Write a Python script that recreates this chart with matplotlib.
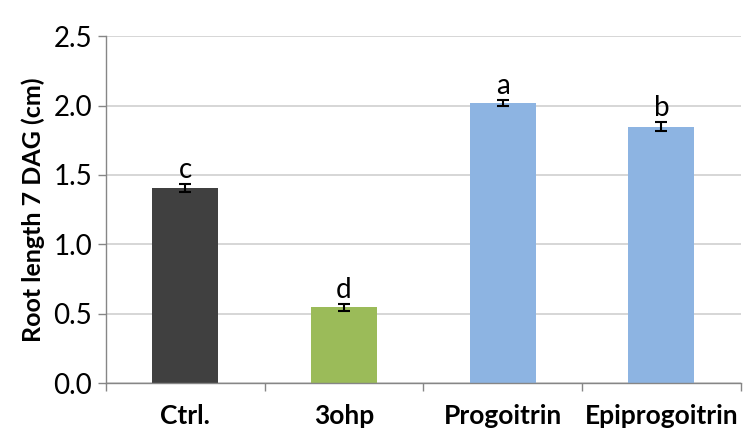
import numpy as np
import matplotlib.pyplot as plt

categories = ['Ctrl.', '3ohp', 'Progoitrin', 'Epiprogoitrin']
values = [1.405, 0.548, 2.018, 1.848]
errors = [0.03, 0.025, 0.024, 0.034]
letters = ['c', 'd', 'a', 'b']
colors = ['#404040', '#9BBB59', '#8DB4E2', '#8DB4E2']

plt.rcParams['font.family'] = ['Lato', 'DejaVu Sans']

fig = plt.figure(figsize=(7.46, 4.46), dpi=100)
ax = fig.add_axes([0.142, 0.141, 0.851, 0.778])

x = np.arange(len(categories))
ax.bar(x, values, width=0.415, color=colors, zorder=2)
ax.errorbar(x, values, yerr=errors, fmt='none', ecolor='black',
            elinewidth=1.5, capsize=4.5, capthick=1.5, zorder=3)
for xi, v, e, t in zip(x, values, errors, letters):
    ax.text(xi, v + e + 0.005, t, ha='center', va='bottom', fontsize=20)

ax.set_xlim(-0.5, len(categories) - 0.5)
ax.set_ylim(0, 2.5)
ax.set_yticks(np.arange(0, 2.51, 0.5))
ax.set_yticklabels(['%.1f' % v for v in np.arange(0, 2.51, 0.5)], fontsize=20)
ax.set_xticks(x)
ax.set_xticklabels(categories, fontsize=19, fontweight='bold')
ax.set_xticks(np.arange(-0.5, len(categories)), minor=True)
ax.tick_params(axis='x', which='major', length=0, pad=15)
ax.tick_params(axis='x', which='minor', length=6, color='#868686', width=1)
ax.tick_params(axis='y', length=6, color='#868686', width=1, pad=4)
ax.set_ylabel('Root length 7 DAG (cm)', fontsize=18, fontweight='bold', labelpad=6)

ax.grid(axis='y', color='#D0D0D0', linewidth=1.2, zorder=0)
ax.set_axisbelow(True)
for s in ['top', 'right']:
    ax.spines[s].set_visible(False)
for s in ['left', 'bottom']:
    ax.spines[s].set_color('#868686')
    ax.spines[s].set_linewidth(1)

fig.savefig('out.png', dpi=100)
